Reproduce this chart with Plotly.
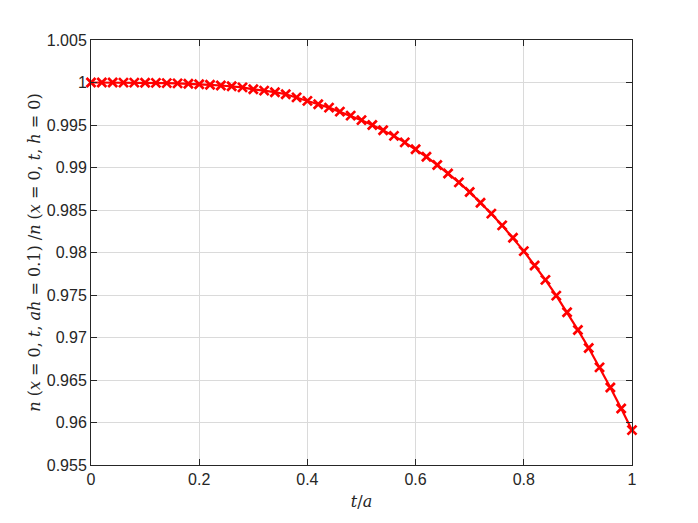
import plotly.graph_objects as go

# t/a sample points
t = [0.00, 0.02, 0.04, 0.06, 0.08, 0.10, 0.12, 0.14, 0.16, 0.18,
     0.20, 0.22, 0.24, 0.26, 0.28, 0.30, 0.32, 0.34, 0.36, 0.38,
     0.40, 0.42, 0.44, 0.46, 0.48, 0.50, 0.52, 0.54, 0.56, 0.58,
     0.60, 0.62, 0.64, 0.66, 0.68, 0.70, 0.72, 0.74, 0.76, 0.78,
     0.80, 0.82, 0.84, 0.86, 0.88, 0.90, 0.92, 0.94, 0.96, 0.98, 1.00]

# density ratio
ratio = [1.00000, 1.00000, 1.00000, 0.99999, 0.99998, 0.99997, 0.99995, 0.99993, 0.99990, 0.99986,
         0.99980, 0.99973, 0.99965, 0.99955, 0.99943, 0.99920, 0.99905, 0.99886, 0.99862, 0.99825,
         0.99784, 0.99745, 0.99704, 0.99657, 0.99610, 0.99557, 0.99500, 0.99438, 0.99372, 0.99296,
         0.99215, 0.99126, 0.99030, 0.98930, 0.98825, 0.98711, 0.98586, 0.98457, 0.98319, 0.98173,
         0.98016, 0.97847, 0.97678, 0.97493, 0.97297, 0.97089, 0.96877, 0.96648, 0.96412, 0.96165,
         0.95910]

x_ticks = [0, 0.2, 0.4, 0.6, 0.8, 1]
x_labels = ["0", "0.2", "0.4", "0.6", "0.8", "1"]
y_ticks = [0.955, 0.96, 0.965, 0.97, 0.975, 0.98, 0.985, 0.99, 0.995, 1.0, 1.005]
y_labels = ["0.955", "0.96", "0.965", "0.97", "0.975", "0.98", "0.985", "0.99", "0.995", "1", "1.005"]

fig = go.Figure()
fig.add_trace(
    go.Scatter(
        x=t,
        y=ratio,
        mode="lines+markers",
        line=dict(color="#ff0000", width=2.2),
        marker=dict(symbol="x-thin", size=9, color="#ff0000",
                    line=dict(color="#ff0000", width=2.7)),
        showlegend=False,
        cliponaxis=False,
    )
)

axis_common = dict(
    showline=True,
    linecolor="#262626",
    linewidth=1,
    mirror="ticks",
    ticks="inside",
    ticklen=6,
    tickcolor="#262626",
    showgrid=True,
    gridcolor="#dadada",
    gridwidth=1,
    zeroline=False,
    automargin=False,
    tickfont=dict(family="Liberation Sans, Arial", size=16, color="#262626"),
)

fig.update_xaxes(
    range=[0, 1],
    tickvals=x_ticks,
    ticktext=x_labels,
    title=dict(text="<i>t</i>/<i>a</i>", standoff=8,
               font=dict(family="DejaVu Serif, serif", size=16, color="#262626")),
    **axis_common,
)
fig.update_yaxes(
    range=[0.955, 1.005],
    tickvals=y_ticks,
    ticktext=y_labels,
    title=dict(
        text="<i>n</i> (<i>x</i> = 0, <i>t</i>, <i>ah</i> = 0.1) /<i>n</i> (<i>x</i> = 0, <i>t</i>, <i>h</i> = 0)",
        standoff=2,
        font=dict(family="DejaVu Serif, serif", size=16, color="#262626"),
    ),
    **axis_common,
)

# page body adds an 8px offset, so the figure is sized to fit inside it
fig.update_layout(
    width=690,
    height=515,
    margin=dict(l=83, r=66, t=32, b=58),
    plot_bgcolor="white",
    paper_bgcolor="white",
)

fig.write_html("out.html")
